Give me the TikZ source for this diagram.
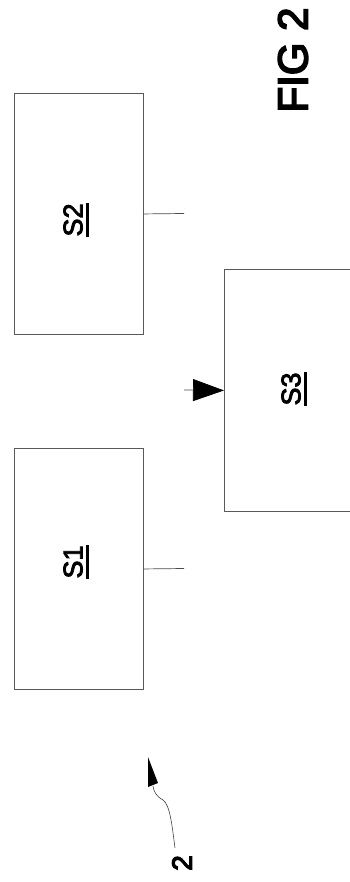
\documentclass[tikz,border=0pt]{standalone}
\usepackage{fontspec}
\setmainfont{Liberation Sans}
\newfontfamily\heavy[FakeBold=3]{Liberation Sans}
\newfontfamily\heavier[FakeBold=4]{Liberation Sans}
\usetikzlibrary{arrows.meta}
\newcommand\myul[1]{\vtop{\hbox{#1}\kern3.5pt\hrule height 2.4pt}}
\begin{document}
\begin{tikzpicture}[x=1pt,y=-1pt,
  box/.style={draw=black!65,line width=0.9pt,minimum width=129pt,minimum height=241pt,inner sep=0pt,anchor=north west},
  lbl/.style={rotate=90,inner sep=0pt,font=\heavy\fontsize{27}{30}\selectfont},
  conn/.style={draw=black!70,line width=0.7pt}]
\useasboundingbox (0,0) rectangle (350,882);
\clip (0,0) rectangle (350,882);
\node[box] (S2) at (14,93) {};
\node[box] (S1) at (14,448) {};
\node[box,minimum width=140pt,minimum height=242pt] (S3) at (224,269) {};
\node[lbl] (l2) at (76,220) {\myul{S2}};
\node[lbl] (l1) at (76,562) {\myul{S1}};
\node[lbl] (l3) at (294,389) {\myul{S3}};
\node[rotate=90,inner sep=0pt,font=\heavier\fontsize{42}{46}\selectfont] (fig) at (293,60) {FIG 2};
\coordinate (e2) at (184,213.5);
\coordinate (e1) at (184,568.5);
\coordinate (e3) at (184,390);
\draw[conn] (S2.east) -- (e2);
\draw[conn] (S1.east) -- (e1);
\draw[conn,-{Triangle[length=31pt,width=22pt,color=black,fill=black]}] (e3) -- (S3.west);
\node[rotate=90,inner sep=0pt,font=\heavier\fontsize{28}{30}\selectfont] (ref) at (182,863) {2};
\coordinate (r0) at (175,848);
\coordinate (rt) at (148,757);
\draw[draw=black!75,line width=0.6pt] (r0) .. controls (172,825) and (170,805) .. (163,800) .. controls (156,796) and (154,792) .. (153,786);
\fill[black] (rt) -- (148,787) -- (158,783) -- cycle;
\end{tikzpicture}
\end{document}
